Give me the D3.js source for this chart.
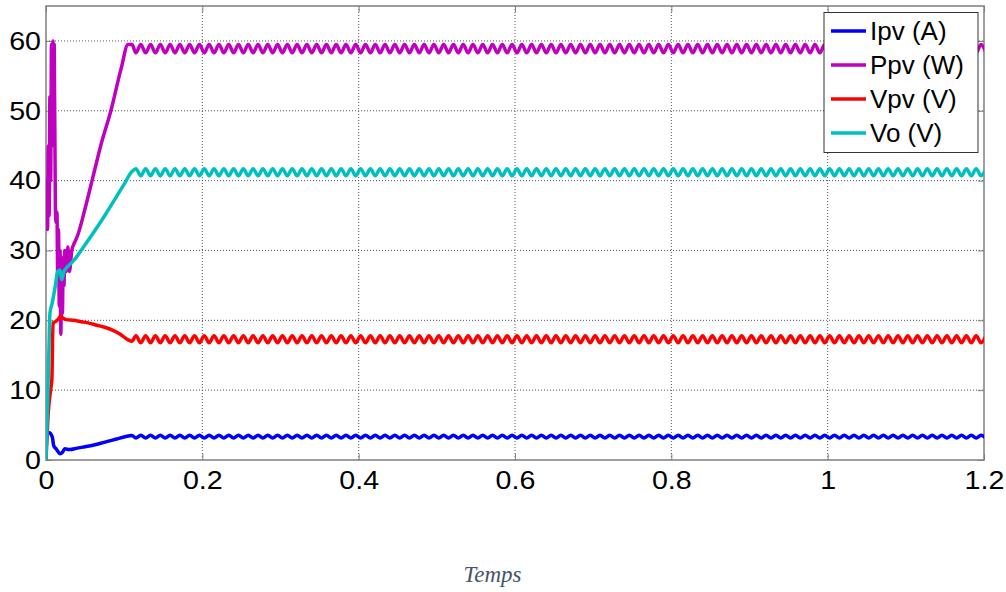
<!DOCTYPE html>
<html>
<head>
<meta charset="utf-8">
<script src="https://cdn.jsdelivr.net/npm/d3@7/dist/d3.min.js"></script>
<style>
	body { margin: 0; background: #fff; }
	svg { display: block; }
	.tick-label { font-family: "Liberation Sans", Arial, sans-serif; font-size: 26px; fill: #000; }
	.legend-label { font-family: "Liberation Sans", Arial, sans-serif; font-size: 26px; fill: #000; }
	.xlabel { font-family: "Liberation Serif", "Times New Roman", serif; font-style: italic; font-size: 23px; fill: #44546a; }
</style>
</head>
<body>
<div class="chart"></div>
<script>
// series names, legend order
var seriesNames = ['Ipv (A)', 'Ppv (W)', 'Vpv (V)', 'Vo (V)'];
var seriesColors = ['#0000ff', '#bf00bf', '#ff0000', '#00bfbf'];

var xTicks = [0, 0.2, 0.4, 0.6, 0.8, 1, 1.2];
var xTickLabels = ['0', '0.2', '0.4', '0.6', '0.8', '1', '1.2'];
var yTicks = [0, 10, 20, 30, 40, 50, 60];

// start-up transient, [time s, value]
var ipvStart = [[0, 0], [0.001, 3.8], [0.004, 3.9], [0.008, 3.3], [0.010, 2.0], [0.013, 1.6],
	[0.018, 0.9], [0.021, 1.1], [0.024, 1.6], [0.03, 1.5], [0.04, 1.7], [0.05, 1.9],
	[0.06, 2.1], [0.07, 2.4], [0.08, 2.7], [0.09, 3.0], [0.1, 3.3], [0.11, 3.5]];

var ppvStart = [[0, 38], [0.001, 40], [0.002, 33], [0.003, 45], [0.004, 35], [0.005, 52],
	[0.006, 40], [0.007, 59.5], [0.008, 45], [0.009, 60], [0.010, 50], [0.0105, 59.5],
	[0.012, 36], [0.013, 34], [0.014, 35.5], [0.015, 26], [0.016, 33], [0.017, 22],
	[0.018, 30], [0.019, 18], [0.020, 28], [0.021, 21], [0.022, 29], [0.023, 25],
	[0.024, 30], [0.026, 27], [0.028, 30.5], [0.030, 27], [0.033, 30], [0.036, 31],
	[0.040, 32], [0.050, 36], [0.060, 40.5], [0.070, 45], [0.083, 50], [0.096, 56],
	[0.105, 59.5], [0.11, 59.5]];

var vpvStart = [[0, 0], [0.003, 7], [0.0065, 10.5], [0.0075, 11.5], [0.009, 19.6], [0.012, 19.8],
	[0.016, 20.2], [0.019, 20.6], [0.022, 20.3], [0.026, 20.1], [0.035, 20.0], [0.045, 19.8],
	[0.055, 19.6], [0.065, 19.3], [0.075, 19.0], [0.085, 18.6], [0.095, 18.0], [0.105, 17.2],
	[0.11, 17.0]];

var voStart = [[0, 0], [0.002, 8], [0.004, 17], [0.005, 21], [0.008, 22.5], [0.012, 25],
	[0.015, 27], [0.018, 27.2], [0.020, 25.8], [0.023, 27], [0.027, 27.6], [0.035, 28.5],
	[0.048, 30.5], [0.074, 34.8], [0.1, 39.5], [0.11, 41.3]];

// steady state ripple: sample times (peaks / troughs) and values
var rippleTimes = [
	0.115, 0.12125, 0.1275, 0.13375, 0.14, 0.14625, 0.1525, 0.15875, 0.165, 0.17125, 0.1775, 0.18375, 0.19, 0.19625, 0.2025, 0.20875,
	0.215, 0.22125, 0.2275, 0.23375, 0.24, 0.24625, 0.2525, 0.25875, 0.265, 0.27125, 0.2775, 0.28375, 0.29, 0.29625, 0.3025, 0.30875,
	0.315, 0.32125, 0.3275, 0.33375, 0.34, 0.34625, 0.3525, 0.35875, 0.365, 0.37125, 0.3775, 0.38375, 0.39, 0.39625, 0.4025, 0.40875,
	0.415, 0.42125, 0.4275, 0.43375, 0.44, 0.44625, 0.4525, 0.45875, 0.465, 0.47125, 0.4775, 0.48375, 0.49, 0.49625, 0.5025, 0.50875,
	0.515, 0.52125, 0.5275, 0.53375, 0.54, 0.54625, 0.5525, 0.55875, 0.565, 0.57125, 0.5775, 0.58375, 0.59, 0.59625, 0.6025, 0.60875,
	0.615, 0.62125, 0.6275, 0.63375, 0.64, 0.64625, 0.6525, 0.65875, 0.665, 0.67125, 0.6775, 0.68375, 0.69, 0.69625, 0.7025, 0.70875,
	0.715, 0.72125, 0.7275, 0.73375, 0.74, 0.74625, 0.7525, 0.75875, 0.765, 0.77125, 0.7775, 0.78375, 0.79, 0.79625, 0.8025, 0.80875,
	0.815, 0.82125, 0.8275, 0.83375, 0.84, 0.84625, 0.8525, 0.85875, 0.865, 0.87125, 0.8775, 0.88375, 0.89, 0.89625, 0.9025, 0.90875,
	0.915, 0.92125, 0.9275, 0.93375, 0.94, 0.94625, 0.9525, 0.95875, 0.965, 0.97125, 0.9775, 0.98375, 0.99, 0.99625, 1.0025, 1.00875,
	1.015, 1.02125, 1.0275, 1.03375, 1.04, 1.04625, 1.0525, 1.05875, 1.065, 1.07125, 1.0775, 1.08375, 1.09, 1.09625, 1.1025, 1.10875,
	1.115, 1.12125, 1.1275, 1.13375, 1.14, 1.14625, 1.1525, 1.15875, 1.165, 1.17125, 1.1775, 1.18375, 1.19, 1.19625, 1.2025];

var ipvRipple = [
	3.15, 3.55, 3.15, 3.55, 3.15, 3.55, 3.15, 3.55, 3.15, 3.55, 3.15, 3.55, 3.15, 3.55, 3.15, 3.55,
	3.15, 3.55, 3.15, 3.55, 3.15, 3.55, 3.15, 3.55, 3.15, 3.55, 3.15, 3.55, 3.15, 3.55, 3.15, 3.55,
	3.15, 3.55, 3.15, 3.55, 3.15, 3.55, 3.15, 3.55, 3.15, 3.55, 3.15, 3.55, 3.15, 3.55, 3.15, 3.55,
	3.15, 3.55, 3.15, 3.55, 3.15, 3.55, 3.15, 3.55, 3.15, 3.55, 3.15, 3.55, 3.15, 3.55, 3.15, 3.55,
	3.15, 3.55, 3.15, 3.55, 3.15, 3.55, 3.15, 3.55, 3.15, 3.55, 3.15, 3.55, 3.15, 3.55, 3.15, 3.55,
	3.15, 3.55, 3.15, 3.55, 3.15, 3.55, 3.15, 3.55, 3.15, 3.55, 3.15, 3.55, 3.15, 3.55, 3.15, 3.55,
	3.15, 3.55, 3.15, 3.55, 3.15, 3.55, 3.15, 3.55, 3.15, 3.55, 3.15, 3.55, 3.15, 3.55, 3.15, 3.55,
	3.15, 3.55, 3.15, 3.55, 3.15, 3.55, 3.15, 3.55, 3.15, 3.55, 3.15, 3.55, 3.15, 3.55, 3.15, 3.55,
	3.15, 3.55, 3.15, 3.55, 3.15, 3.55, 3.15, 3.55, 3.15, 3.55, 3.15, 3.55, 3.15, 3.55, 3.15, 3.55,
	3.15, 3.55, 3.15, 3.55, 3.15, 3.55, 3.15, 3.55, 3.15, 3.55, 3.15, 3.55, 3.15, 3.55, 3.15, 3.55,
	3.15, 3.55, 3.15, 3.55, 3.15, 3.55, 3.15, 3.55, 3.15, 3.55, 3.15, 3.55, 3.15, 3.55, 3.15];

var ppvRipple = [
	58.3, 59.5, 58.3, 59.5, 58.3, 59.5, 58.3, 59.5, 58.3, 59.5, 58.3, 59.5, 58.3, 59.5, 58.3, 59.5,
	58.3, 59.5, 58.3, 59.5, 58.3, 59.5, 58.3, 59.5, 58.3, 59.5, 58.3, 59.5, 58.3, 59.5, 58.3, 59.5,
	58.3, 59.5, 58.3, 59.5, 58.3, 59.5, 58.3, 59.5, 58.3, 59.5, 58.3, 59.5, 58.3, 59.5, 58.3, 59.5,
	58.3, 59.5, 58.3, 59.5, 58.3, 59.5, 58.3, 59.5, 58.3, 59.5, 58.3, 59.5, 58.3, 59.5, 58.3, 59.5,
	58.3, 59.5, 58.3, 59.5, 58.3, 59.5, 58.3, 59.5, 58.3, 59.5, 58.3, 59.5, 58.3, 59.5, 58.3, 59.5,
	58.3, 59.5, 58.3, 59.5, 58.3, 59.5, 58.3, 59.5, 58.3, 59.5, 58.3, 59.5, 58.3, 59.5, 58.3, 59.5,
	58.3, 59.5, 58.3, 59.5, 58.3, 59.5, 58.3, 59.5, 58.3, 59.5, 58.3, 59.5, 58.3, 59.5, 58.3, 59.5,
	58.3, 59.5, 58.3, 59.5, 58.3, 59.5, 58.3, 59.5, 58.3, 59.5, 58.3, 59.5, 58.3, 59.5, 58.3, 59.5,
	58.3, 59.5, 58.3, 59.5, 58.3, 59.5, 58.3, 59.5, 58.3, 59.5, 58.3, 59.5, 58.3, 59.5, 58.3, 59.5,
	58.3, 59.5, 58.3, 59.5, 58.3, 59.5, 58.3, 59.5, 58.3, 59.5, 58.3, 59.5, 58.3, 59.5, 58.3, 59.5,
	58.3, 59.5, 58.3, 59.5, 58.3, 59.5, 58.3, 59.5, 58.3, 59.5, 58.3, 59.5, 58.3, 59.5, 58.3];

var vpvRipple = [
	17.8, 16.8, 17.8, 16.8, 17.8, 16.8, 17.8, 16.8, 17.8, 16.8, 17.8, 16.8, 17.8, 16.8, 17.8, 16.8,
	17.8, 16.8, 17.8, 16.8, 17.8, 16.8, 17.8, 16.8, 17.8, 16.8, 17.8, 16.8, 17.8, 16.8, 17.8, 16.8,
	17.8, 16.8, 17.8, 16.8, 17.8, 16.8, 17.8, 16.8, 17.8, 16.8, 17.8, 16.8, 17.8, 16.8, 17.8, 16.8,
	17.8, 16.8, 17.8, 16.8, 17.8, 16.8, 17.8, 16.8, 17.8, 16.8, 17.8, 16.8, 17.8, 16.8, 17.8, 16.8,
	17.8, 16.8, 17.8, 16.8, 17.8, 16.8, 17.8, 16.8, 17.8, 16.8, 17.8, 16.8, 17.8, 16.8, 17.8, 16.8,
	17.8, 16.8, 17.8, 16.8, 17.8, 16.8, 17.8, 16.8, 17.8, 16.8, 17.8, 16.8, 17.8, 16.8, 17.8, 16.8,
	17.8, 16.8, 17.8, 16.8, 17.8, 16.8, 17.8, 16.8, 17.8, 16.8, 17.8, 16.8, 17.8, 16.8, 17.8, 16.8,
	17.8, 16.8, 17.8, 16.8, 17.8, 16.8, 17.8, 16.8, 17.8, 16.8, 17.8, 16.8, 17.8, 16.8, 17.8, 16.8,
	17.8, 16.8, 17.8, 16.8, 17.8, 16.8, 17.8, 16.8, 17.8, 16.8, 17.8, 16.8, 17.8, 16.8, 17.8, 16.8,
	17.8, 16.8, 17.8, 16.8, 17.8, 16.8, 17.8, 16.8, 17.8, 16.8, 17.8, 16.8, 17.8, 16.8, 17.8, 16.8,
	17.8, 16.8, 17.8, 16.8, 17.8, 16.8, 17.8, 16.8, 17.8, 16.8, 17.8, 16.8, 17.8, 16.8, 17.8];

var voRipple = [
	41.7, 40.7, 41.7, 40.7, 41.7, 40.7, 41.7, 40.7, 41.7, 40.7, 41.7, 40.7, 41.7, 40.7, 41.7, 40.7,
	41.7, 40.7, 41.7, 40.7, 41.7, 40.7, 41.7, 40.7, 41.7, 40.7, 41.7, 40.7, 41.7, 40.7, 41.7, 40.7,
	41.7, 40.7, 41.7, 40.7, 41.7, 40.7, 41.7, 40.7, 41.7, 40.7, 41.7, 40.7, 41.7, 40.7, 41.7, 40.7,
	41.7, 40.7, 41.7, 40.7, 41.7, 40.7, 41.7, 40.7, 41.7, 40.7, 41.7, 40.7, 41.7, 40.7, 41.7, 40.7,
	41.7, 40.7, 41.7, 40.7, 41.7, 40.7, 41.7, 40.7, 41.7, 40.7, 41.7, 40.7, 41.7, 40.7, 41.7, 40.7,
	41.7, 40.7, 41.7, 40.7, 41.7, 40.7, 41.7, 40.7, 41.7, 40.7, 41.7, 40.7, 41.7, 40.7, 41.7, 40.7,
	41.7, 40.7, 41.7, 40.7, 41.7, 40.7, 41.7, 40.7, 41.7, 40.7, 41.7, 40.7, 41.7, 40.7, 41.7, 40.7,
	41.7, 40.7, 41.7, 40.7, 41.7, 40.7, 41.7, 40.7, 41.7, 40.7, 41.7, 40.7, 41.7, 40.7, 41.7, 40.7,
	41.7, 40.7, 41.7, 40.7, 41.7, 40.7, 41.7, 40.7, 41.7, 40.7, 41.7, 40.7, 41.7, 40.7, 41.7, 40.7,
	41.7, 40.7, 41.7, 40.7, 41.7, 40.7, 41.7, 40.7, 41.7, 40.7, 41.7, 40.7, 41.7, 40.7, 41.7, 40.7,
	41.7, 40.7, 41.7, 40.7, 41.7, 40.7, 41.7, 40.7, 41.7, 40.7, 41.7, 40.7, 41.7, 40.7, 41.7];

var xLabel = 'Temps';

function buildSeries(start, ripple) {
	return start.concat(rippleTimes.map(function(t, i) { return [t, ripple[i]]; }));
}

function drawChart(element) {
	var svg = d3.select(element).append('svg')
			.attr('width', 1006)
			.attr('height', 592),
		margin = { top: 6, right: 22, bottom: 132, left: 46 },
		width = +svg.attr('width') - margin.left - margin.right,
		height = +svg.attr('height') - margin.top - margin.bottom,
		g = svg.append('g').attr('transform', 'translate(' + margin.left + ',' + margin.top + ')');

	var x = d3.scaleLinear().domain([0, 1.2]).range([0, width]);
	var y = d3.scaleLinear().domain([0, 65]).range([height, 0]);

	svg.append('defs').append('clipPath').attr('id', 'plot-clip')
		.append('rect').attr('width', width).attr('height', height);

	// dotted grid
	g.append('g').selectAll('line')
		.data(xTicks.slice(1, -1))
		.enter().append('line')
		.attr('x1', function(d) { return x(d); })
		.attr('x2', function(d) { return x(d); })
		.attr('y1', 0).attr('y2', height)
		.attr('stroke', '#555').attr('stroke-width', 1).attr('stroke-dasharray', '1,2');
	g.append('g').selectAll('line')
		.data(yTicks.slice(1))
		.enter().append('line')
		.attr('y1', function(d) { return y(d); })
		.attr('y2', function(d) { return y(d); })
		.attr('x1', 0).attr('x2', width)
		.attr('stroke', '#555').attr('stroke-width', 1).attr('stroke-dasharray', '1,2');

	// axes, ticks inward like matlab
	var axisBottom = g.append('g')
		.attr('transform', 'translate(0,' + height + ')')
		.call(d3.axisBottom(x).tickValues(xTicks).tickSize(-6)
			.tickFormat(function(d, i) { return xTickLabels[i]; }));
	var axisLeft = g.append('g')
		.call(d3.axisLeft(y).tickValues(yTicks).tickSize(-6).tickFormat(d3.format('d')));
	g.append('g')
		.call(d3.axisTop(x).tickValues(xTicks).tickSize(-6).tickFormat(''));
	g.append('g')
		.attr('transform', 'translate(' + width + ',0)')
		.call(d3.axisRight(y).tickValues(yTicks).tickSize(-6).tickFormat(''));

	g.selectAll('.domain').remove();
	g.selectAll('.tick line').attr('stroke', '#7f7f7f');
	// labels in the source look a little wide, stretch them
	axisBottom.selectAll('text').attr('class', 'tick-label')
		.attr('dy', '0.72em').attr('y', 10)
		.attr('transform', 'scale(1.1,1)');
	axisLeft.selectAll('text').attr('class', 'tick-label')
		.attr('x', -5 / 1.1)
		.attr('transform', 'scale(1.1,1)');
	g.selectAll('.tick text').attr('font-family', null).attr('font-size', null).attr('fill', null);

	g.append('rect')
		.attr('width', width).attr('height', height)
		.attr('fill', 'none').attr('stroke', '#7f7f7f').attr('stroke-width', 1.5);

	var line = d3.line()
		.x(function(d) { return x(d[0]); })
		.y(function(d) { return y(d[1]); })
		.curve(d3.curveMonotoneX);

	var allSeries = [
		buildSeries(ipvStart, ipvRipple),
		buildSeries(ppvStart, ppvRipple),
		buildSeries(vpvStart, vpvRipple),
		buildSeries(voStart, voRipple)
	];

	g.append('g').attr('clip-path', 'url(#plot-clip)')
		.selectAll('path')
		.data(allSeries)
		.enter().append('path')
		.attr('d', line)
		.attr('fill', 'none')
		.attr('stroke', function(d, i) { return seriesColors[i]; })
		.attr('stroke-width', 3.5)
		.attr('stroke-linejoin', 'round');

	// legend box top right
	var legend = svg.append('g').attr('transform', 'translate(824,12.5)');
	legend.append('rect')
		.attr('width', 154).attr('height', 140)
		.attr('fill', '#fff').attr('stroke', '#333').attr('stroke-width', 1);
	var items = legend.selectAll('.item')
		.data(seriesNames)
		.enter().append('g')
		.attr('class', 'item')
		.attr('transform', function(d, i) { return 'translate(0,' + (18.5 + i * 34) + ')'; });
	items.append('line')
		.attr('x1', 7).attr('x2', 42)
		.attr('stroke', function(d, i) { return seriesColors[i]; })
		.attr('stroke-width', 3.5);
	items.append('text')
		.attr('class', 'legend-label')
		.attr('x', 46).attr('y', 9)
		.text(function(d) { return d; });

	svg.append('text')
		.attr('class', 'xlabel')
		.attr('x', 492.5).attr('y', 582)
		.attr('text-anchor', 'middle')
		.text(xLabel);
}

drawChart('.chart');
</script>
</body>
</html>
